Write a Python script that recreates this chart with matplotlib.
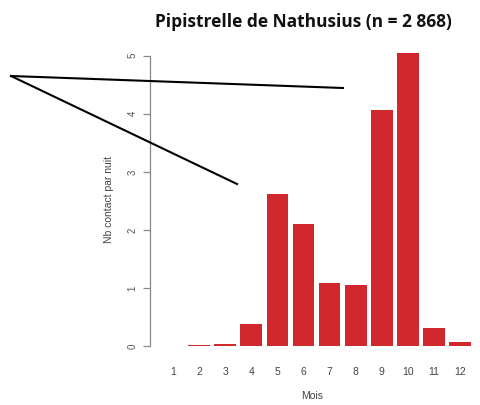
import matplotlib
matplotlib.use("Agg")
import matplotlib.pyplot as plt
from matplotlib.lines import Line2D

months = [1, 2, 3, 4, 5, 6, 7, 8, 9, 10, 11, 12]
values = [0.0, 0.01, 0.03, 0.38, 2.62, 2.10, 1.08, 1.05, 4.06, 5.04, 0.31, 0.07]
month_labels = [str(m) for m in months]
yticks = [0, 1, 2, 3, 4, 5]
title = "Pipistrelle de Nathusius (n = 2 868)"

plt.rcParams["font.family"] = ["Liberation Sans", "DejaVu Sans"]

W, H = 481, 405
fig = plt.figure(figsize=(W / 100, H / 100), dpi=100)

# axes placement in pixels
left_px, right_px = 150, 475
top_px, bottom_px = 44.1, 354.7
ax = fig.add_axes([left_px / W, (H - bottom_px) / H,
                   (right_px - left_px) / W, (bottom_px - top_px) / H])

ax.bar(months, values, width=0.83, color="#d0282c")
ax.set_xlim(0.119, 12.571)
ax.set_ylim(-0.15, 5.2)

for s in ["top", "right", "bottom"]:
    ax.spines[s].set_visible(False)
ax.spines["left"].set_bounds(0, 5)
ax.spines["left"].set_color("#888888")
ax.spines["left"].set_linewidth(0.9)

ax.set_yticks(yticks)
ax.set_yticklabels([str(t) for t in yticks], rotation=90, va="center",
                   fontsize=7, color="#555555")
ax.tick_params(axis="y", length=5, width=0.9, color="#888888", pad=4)
ax.set_xticks(months)
ax.set_xticklabels(month_labels, fontsize=7.5, color="#444444")
ax.tick_params(axis="x", length=0, pad=9)

ax.set_ylabel("Nb contact par nuit", fontsize=7.5, color="#444444", labelpad=10)
ax.set_xlabel("Mois", fontsize=7.5, color="#444444", labelpad=10)

fig.text(303 / W, 1 - 22 / H, title, ha="center", va="center",
         fontsize=12.5, fontweight="bold", family="Open Sans", color="#111111")

# annotation lines (figure pixel coordinates)
line_start = (11, 76)
line_ends = [(343, 88), (237, 184)]
for end in line_ends:
    fig.add_artist(Line2D([line_start[0] / W, end[0] / W],
                          [1 - line_start[1] / H, 1 - end[1] / H],
                          transform=fig.transFigure, color="black", lw=1.5))

fig.savefig("out.png", dpi=100)
